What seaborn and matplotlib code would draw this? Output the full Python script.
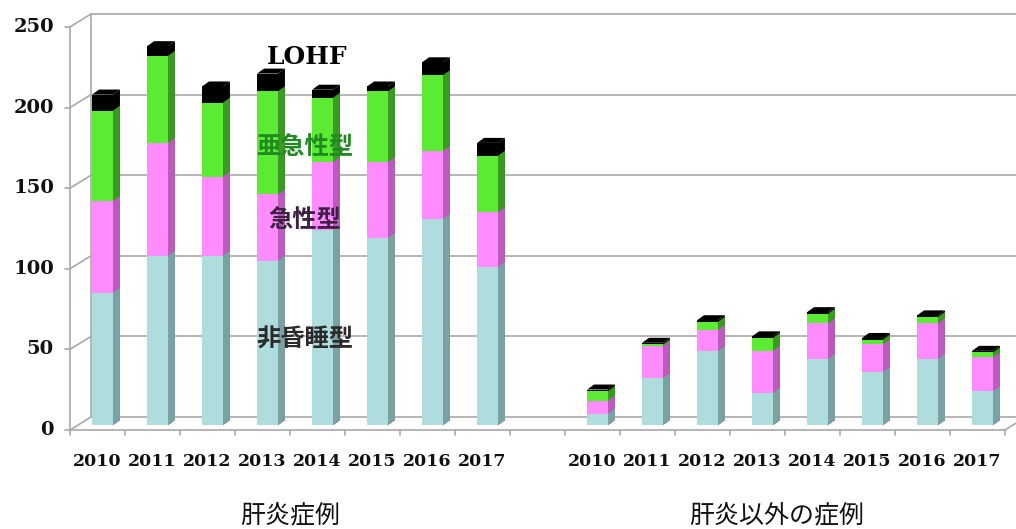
import matplotlib
matplotlib.use("Agg")
import matplotlib.pyplot as plt
from matplotlib.patches import Polygon
from matplotlib.transforms import offset_copy
import numpy as np
import pandas as pd
import seaborn as sns

# ---- data -------------------------------------------------------------
years = ["2010", "2011", "2012", "2013", "2014", "2015", "2016", "2017"]
groups = ["肝炎症例", "肝炎以外の症例"]
segments = ["非昏睡型", "急性型", "亜急性型", "LOHF"]

hep_noncoma = [82, 105, 105, 102, 121, 116, 128, 98]
hep_acute = [57, 70, 49, 41, 42, 47, 42, 34]
hep_subacute = [56, 54, 46, 64, 40, 44, 47, 35]
hep_lohf = [10, 6, 10, 11, 5, 3, 8, 8]

oth_noncoma = [7, 29, 46, 20, 41, 33, 41, 21]
oth_acute = [8, 20, 13, 26, 22, 17, 22, 21]
oth_subacute = [6, 1, 5, 8, 6, 3, 4, 3]
oth_lohf = [1, 1, 1, 1, 1, 1, 1, 1]

y_ticks = [0, 50, 100, 150, 200, 250]

seg_front = ["#afdcdc", "#ff8cff", "#5aeb32", "#000000"]
seg_side = ["#7aa2a2", "#bb5bbb", "#3a9a24", "#000000"]
label_colors = ["#2a2a2a", "#3e2044", "#1f8a1f", "#000000"]

# ---- long table: one row per year / group / segment -------------------
rows = []
series = [
    (hep_noncoma, hep_acute, hep_subacute, hep_lohf),
    (oth_noncoma, oth_acute, oth_subacute, oth_lohf),
]
for g, (grp, vals) in enumerate(zip(groups, series)):
    for i, yr in enumerate(years):
        cum = 0
        for s, seg in enumerate(segments):
            v = vals[s][i]
            rows.append(dict(group=grp, year=yr, segment=seg, seg_idx=s,
                             value=v, bottom=cum, top=cum + v,
                             pos=g * 9 + i + 0.5))
            cum += v
df = pd.DataFrame(rows)

# ---- figure -------------------------------------------------------------
sns.set_theme(style="white")
plt.rcParams["font.family"] = ["DejaVu Serif", "Noto Sans CJK JP"]

W, H = 1016, 529
fig = plt.figure(figsize=(W / 100, H / 100), dpi=100)
ax = fig.add_axes([70 / W, 99 / H, 935 / W, 403 / H])
XMAX = 17
ax.set_xlim(0, XMAX)
ax.set_ylim(0, 250)
ax.set_axis_off()


def px(dx, dy):
    inv = ax.transData.inverted()
    x0, y0 = inv.transform((0, 0))
    x1, y1 = inv.transform((dx, dy))
    return x1 - x0, y1 - y0


wall_dx, wall_dy = px(21, 13)     # depth of the chart box
bar_dx, bar_dy = px(7, 5)         # depth of each column
bar_w = 0.38
grid_kw = dict(color="#a9a9a9", lw=1.2, clip_on=False, zorder=0.5)

# back wall gridlines and left side wall
for v in y_ticks:
    ax.plot([wall_dx, XMAX + wall_dx + 1], [v + wall_dy, v + wall_dy], **grid_kw)
    ax.plot([0, wall_dx], [v, v + wall_dy], **grid_kw)
    ax.plot([px(-5, 0)[0], 0], [v, v], **grid_kw)
    ax.text(px(-16, 0)[0], v, str(v), ha="right", va="center",
            fontsize=14, fontweight="bold", color="#111111",
            family="DejaVu Serif")
ax.plot([0, 0], [0, 250], **grid_kw)
ax.plot([wall_dx, wall_dx], [wall_dy, 250 + wall_dy], **grid_kw)

# floor edges
ax.plot([0, XMAX], [0, 0], **grid_kw)
ax.plot([XMAX, XMAX + wall_dx], [0, wall_dy], **grid_kw)
tick_len = px(0, -5)[1]
for b in list(range(0, 9)) + list(range(9, 18)):
    ax.plot([b, b], [0, tick_len], **grid_kw)

# ---- columns ---------------------------------------------------------------
tr_bar = offset_copy(ax.transData, fig=fig, x=5, y=5, units="dots")

# stacked columns drawn as overlapping cumulative heights, tallest first
for s in range(len(segments) - 1, -1, -1):
    sub = df[df.seg_idx == s]
    for _, r in sub.iterrows():
        if r.top <= 0:
            continue
        xr = r.pos + bar_w / 2
        side = Polygon([(xr, 0), (xr, r.top), (xr + bar_dx, r.top + bar_dy),
                        (xr + bar_dx, bar_dy)], closed=True,
                       facecolor=seg_side[s], edgecolor="none",
                       transform=tr_bar, clip_on=False, zorder=2 + 0.01 * (4 - s))
        ax.add_patch(side)
    n0 = len(ax.patches)
    sns.barplot(data=sub, x="pos", y="top", native_scale=True, width=bar_w,
                color=seg_front[s], saturation=1, errorbar=None,
                linewidth=0, ax=ax, zorder=3 + 0.01 * (4 - s))
    for p in ax.patches[n0:]:
        p.set_transform(tr_bar)
        p.set_clip_on(False)

# top face of each column
for (g, yr), sub in df.groupby(["group", "year"], sort=False):
    last = sub[sub.value > 0].iloc[-1]
    xl, xr, t = last.pos - bar_w / 2, last.pos + bar_w / 2, last.top
    top = Polygon([(xl, t), (xr, t), (xr + bar_dx, t + bar_dy),
                   (xl + bar_dx, t + bar_dy)], closed=True,
                  facecolor=seg_front[int(last.seg_idx)], edgecolor="none",
                  transform=tr_bar, clip_on=False, zorder=3.5)
    ax.add_patch(top)

ax.set_xlim(0, XMAX)
ax.set_ylim(0, 250)
ax.set_axis_off()

# ---- labels ------------------------------------------------------------------
year_y = px(0, -31)[1]
for g in range(len(groups)):
    for i, yr in enumerate(years):
        ax.text(g * 9 + i + 0.5, year_y, yr, ha="center", va="center",
                fontsize=12.5, fontweight="bold", color="#111111",
                family="DejaVu Serif", clip_on=False)

group_y = px(0, -85)[1]
ax.text(4.0, group_y, groups[0], ha="center", va="center", fontsize=18,
        family=["Noto Sans CJK JP"], color="#111111")
ax.text(12.85, group_y, groups[1], ha="center", va="center", fontsize=18,
        family=["Noto Sans CJK JP"], color="#111111")

seg_label_y = [55.8, 130.3, 175.6, 231.4]
for s, seg in enumerate(segments):
    if seg == "LOHF":
        ax.text(4.31, seg_label_y[s], seg, ha="center", va="center",
                fontsize=18, fontweight="bold", family="DejaVu Serif",
                color=label_colors[s], zorder=5)
    else:
        ax.text(4.27, seg_label_y[s], seg, ha="center", va="center",
                fontsize=17.5, fontweight="bold", family=["Noto Sans CJK JP"],
                color=label_colors[s], zorder=5)

fig.savefig("out.png", dpi=100)
